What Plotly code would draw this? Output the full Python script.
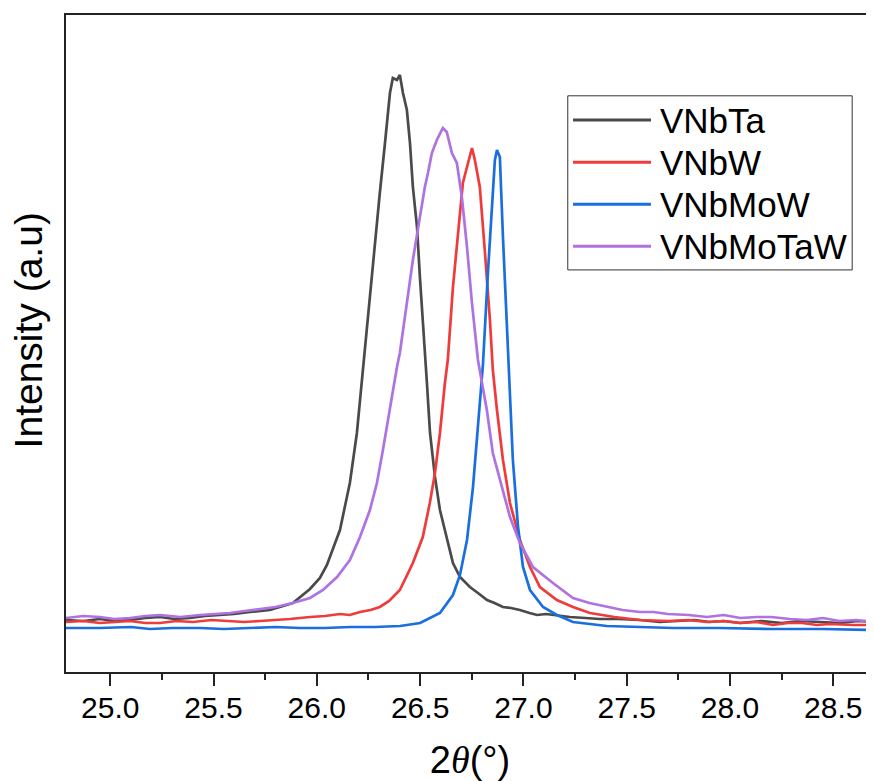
import plotly.graph_objects as go

# ---- data (2theta in degrees, intensity in arbitrary units) ----
theta_vnbta = [24.786, 24.87, 24.95, 25.02, 25.096, 25.17, 25.241, 25.31, 25.386, 25.46, 25.531, 25.60, 25.676, 25.773,
               25.884, 25.967, 26.015, 26.049, 26.112, 26.160, 26.194, 26.223, 26.247, 26.271, 26.305,
               26.330, 26.354, 26.368, 26.388, 26.402, 26.417, 26.436, 26.451, 26.465, 26.485, 26.499,
               26.523, 26.533, 26.548, 26.572, 26.596, 26.630, 26.659, 26.693, 26.741, 26.78, 26.824, 26.86, 26.901,
               26.94, 26.983, 27.03, 27.066, 27.11, 27.15, 27.225, 27.30, 27.370, 27.46, 27.564, 27.66, 27.757, 27.83,
               27.90, 27.97, 28.048, 28.15, 28.25, 28.338, 28.44, 28.532, 28.62, 28.697]
int_vnbta = [52, 51, 53, 51, 52, 54, 55, 53, 54, 56, 57, 58, 60, 62,
             69, 83, 94, 107, 142, 189, 239, 302, 352, 412, 479,
             529, 579, 594, 592, 597, 579, 562, 529, 485, 445, 395,
             312, 289, 239, 195, 162, 135, 109, 95, 85, 79, 72, 69, 65,
             64, 62, 59, 57, 58, 57, 55, 54, 53, 53, 52, 50, 51, 52,
             50, 51, 49, 51, 49, 51, 50, 49, 51, 50]

theta_vnbw = [24.786, 24.87, 24.95, 25.02, 25.096, 25.17, 25.241, 25.32, 25.401, 25.49, 25.580, 25.65, 25.725, 25.80, 25.870,
              25.967, 26.04, 26.112, 26.16, 26.209, 26.26, 26.305, 26.35, 26.402, 26.465, 26.513, 26.547, 26.572, 26.596,
              26.620, 26.634, 26.659, 26.693, 26.707, 26.727, 26.751, 26.765, 26.789, 26.814, 26.838,
              26.852, 26.872, 26.901, 26.935, 26.983, 27.032, 27.080, 27.162, 27.24, 27.322, 27.44, 27.564,
              27.70, 27.80, 27.888, 27.97, 28.05, 28.13, 28.207, 28.28, 28.35, 28.42, 28.483, 28.60, 28.697]
int_vnbw = [50, 51, 49, 50, 51, 49, 49, 51, 50, 52, 51, 50, 51, 52, 53,
            55, 56, 58, 57, 60, 62, 65, 71, 82, 109, 135, 169, 199, 239,
            289, 312, 385, 459, 489, 505, 524, 512, 485, 419, 352,
            302, 262, 212, 169, 132, 105, 85, 72, 65, 59, 55, 52,
            51, 52, 50, 51, 49, 50, 47, 49, 49, 47, 48, 47, 47]

theta_vnbmow = [24.786, 24.95, 25.10, 25.193, 25.30, 25.435, 25.55, 25.677, 25.80, 25.919, 26.04, 26.161, 26.28, 26.403,
                26.500, 26.596, 26.659, 26.693, 26.727, 26.756, 26.780, 26.804, 26.829, 26.848, 26.862, 26.872,
                26.886, 26.901, 26.915, 26.925, 26.949, 26.974, 26.998, 27.032, 27.095, 27.162,
                27.240, 27.404, 27.55, 27.724, 27.95, 28.207, 28.45, 28.697]
int_vnbmow = [44, 44, 45, 43, 44, 44, 43, 44, 45, 44, 44, 45, 45, 46,
              49, 59, 77, 97, 132, 185, 245, 307, 402, 469, 512, 522,
              515, 435, 369, 312, 212, 145, 105, 82, 65, 57,
              50, 46, 45, 44, 44, 43, 43, 42]

theta_vnbmotaw = [24.786, 24.87, 24.95, 25.02, 25.096, 25.17, 25.241, 25.34, 25.435, 25.51, 25.580, 25.65, 25.725, 25.80, 25.884,
                  25.967, 26.030, 26.098, 26.160, 26.209, 26.257, 26.291, 26.320, 26.354, 26.388,
                  26.402, 26.441, 26.465, 26.499, 26.523, 26.538, 26.557, 26.581, 26.610, 26.629,
                  26.654, 26.678, 26.702, 26.727, 26.751, 26.780, 26.823, 26.852, 26.896, 26.935,
                  26.983, 27.046, 27.143, 27.240, 27.32, 27.404, 27.48, 27.564, 27.63, 27.70, 27.80, 27.888, 27.97,
                  28.05, 28.13, 28.20, 28.29, 28.372, 28.45, 28.53, 28.61, 28.697]
int_vnbmotaw = [54, 56, 55, 53, 54, 56, 57, 55, 57, 58, 59, 61, 63, 65, 69,
                74, 82, 95, 112, 135, 162, 189, 222, 265, 305,
                319, 379, 412, 455, 485, 499, 519, 532, 544, 540,
                519, 509, 475, 425, 369, 312, 262, 219, 185, 155,
                129, 105, 89, 74, 69, 65, 62, 60, 60, 58, 57, 55, 57,
                54, 55, 55, 53, 52, 54, 51, 52, 50]

names = ["VNbTa", "VNbW", "VNbMoW", "VNbMoTaW"]
colors = ["#4a4a4a", "#ef3b3b", "#1a6fdf", "#ae72e3"]
series_x = [theta_vnbta, theta_vnbw, theta_vnbmow, theta_vnbmotaw]
series_y = [int_vnbta, int_vnbw, int_vnbmow, int_vnbmotaw]

x_ticks = [25.0, 25.5, 26.0, 26.5, 27.0, 27.5, 28.0, 28.5]
x_ticklabels = ["25.0", "25.5", "26.0", "26.5", "27.0", "27.5", "28.0", "28.5"]

FONT = "Liberation Sans, Arial, sans-serif"

fig = go.Figure()
for n, c, xs, ys in zip(names, colors, series_x, series_y):
    fig.add_trace(go.Scatter(x=xs, y=ys, mode="lines", name=n,
                             line=dict(color=c, width=2.7), showlegend=False))

# custom legend (long line samples like the original)
leg_y = [0.840, 0.776, 0.712, 0.648]
shapes = [dict(type="rect", xref="paper", yref="paper", x0=0.621, x1=0.973, y0=0.612, y1=0.877,
               line=dict(color="#333333", width=1), fillcolor="rgba(255,255,255,0)")]
annotations = []
for n, c, yy in zip(names, colors, leg_y):
    shapes.append(dict(type="line", xref="paper", yref="paper", x0=0.6275, x1=0.724, y0=yy, y1=yy,
                       line=dict(color=c, width=3)))
    annotations.append(dict(xref="paper", yref="paper", x=0.733, y=yy, xanchor="left", yanchor="middle",
                            text=n, showarrow=False, font=dict(family=FONT, size=35, color="#000000")))

# y-axis title
annotations.append(dict(xref="paper", yref="paper", x=-0.047, y=0.52, xanchor="center", yanchor="middle",
                        textangle=-90, text="Intensity (a.u)", showarrow=False,
                        font=dict(family=FONT, size=39, color="#000000")))

# page body has an 8px margin, so the figure is offset by 8px; sizes compensate
fig.update_layout(
    width=866, height=773,
    margin=dict(l=58, r=0, t=7, b=109, pad=0),
    paper_bgcolor="white", plot_bgcolor="white",
    font=dict(family=FONT, color="#000000"),
    shapes=shapes, annotations=annotations,
    xaxis=dict(
        automargin=False,
        range=[24.786, 28.697], tickmode="array", tickvals=x_ticks, ticktext=x_ticklabels,
        ticks="outside", ticklen=12, tickwidth=2, tickcolor="#222222",
        minor=dict(ticks="outside", ticklen=6, tickwidth=2, tickcolor="#222222", dtick=0.25, tick0=24.75, showgrid=False),
        showline=True, linecolor="#222222", linewidth=2, mirror=True,
        showgrid=False, zeroline=False,
        tickfont=dict(family=FONT, size=30, color="#000000"),
        ticklabelstandoff=-4,
        title=dict(text="2<span style=\"font-family:'Liberation Serif'\"><i>θ</i></span>(°)",
                   font=dict(family=FONT, size=38, color="#000000"), standoff=25),
    ),
    yaxis=dict(
        automargin=False,
        range=[0, 657], showticklabels=False, ticks="",
        showline=True, linecolor="#222222", linewidth=2,
        showgrid=False, zeroline=False,
    ),
)

fig.write_html("out.html")
